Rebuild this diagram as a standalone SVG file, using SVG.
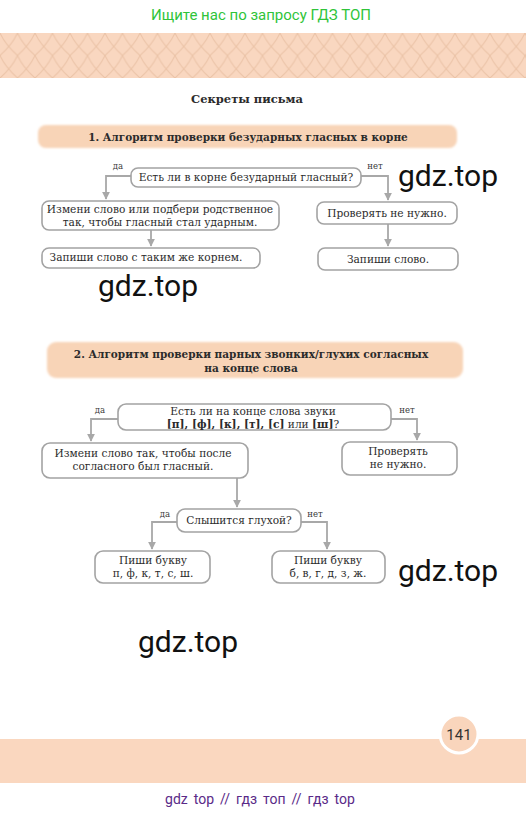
<svg xmlns="http://www.w3.org/2000/svg" width="526" height="817" viewBox="0 0 526 817">
<style>
.t{font-family:"DejaVu Serif","Liberation Serif",serif;font-size:10.6px;fill:#2b2b2b;text-anchor:middle}
.s{font-family:"DejaVu Serif","Liberation Serif",serif;font-size:8.5px;fill:#3a3a3a;text-anchor:middle}
.h{font-family:"DejaVu Serif","Liberation Serif",serif;font-size:10.5px;font-weight:bold;fill:#2b2b2b;text-anchor:middle}
.box{fill:#fff;stroke:#a3a3a3;stroke-width:1.6}
.c{fill:none;stroke:#a8a8a8;stroke-width:1.8}
.wm{font-family:Roboto,"Liberation Sans",sans-serif;font-size:30px;fill:#111}
.band{fill:#f8d4b7}
</style>
<defs>
<pattern id="lat" x="0" y="33" width="17.5" height="22.5" patternUnits="userSpaceOnUse">
<rect width="17.5" height="22.5" fill="#f9d7c0"/>
<path d="M0,0 Q5,11.25 17.5,22.5 M17.5,0 Q12.5,11.25 0,22.5" fill="none" stroke="#ebc3a7" stroke-width="1"/>
</pattern>
<marker id="ar" viewBox="0 0 10 10" refX="9" refY="5" markerWidth="4.5" markerHeight="4.5" orient="auto" markerUnits="strokeWidth">
<path d="M0,0 L10,5 L0,10 z" fill="#a8a8a8"/>
</marker>
<filter id="soft" x="-5%" y="-30%" width="110%" height="160%"><feGaussianBlur stdDeviation="1.2"/></filter>
</defs>
<rect width="526" height="817" fill="#fff"/>
<text x="261" y="20" font-family="Roboto,'Liberation Sans',sans-serif" font-size="15" fill="#2fc43a" text-anchor="middle">Ищите нас по запросу ГДЗ ТОП</text>
<rect x="0" y="33" width="526" height="45" fill="url(#lat)"/>
<text x="247" y="103" font-family="'DejaVu Serif','Liberation Serif',serif" font-size="11.5" font-weight="bold" fill="#2b2b2b" text-anchor="middle">Секреты письма</text>

<g id="header1">
<rect x="38" y="125" width="419" height="23" rx="8" class="band" filter="url(#soft)"/>
<text x="248" y="141" class="h">1. Алгоритм проверки безударных гласных в корне</text>
</g>

<g id="connectors">
<path class="c" d="M131,176 H106 V199" marker-end="url(#ar)"/>
<path class="c" d="M361,176 H388 V200" marker-end="url(#ar)"/>
<path class="c" d="M151,230 V246" marker-end="url(#ar)"/>
<path class="c" d="M388,224 V246" marker-end="url(#ar)"/>
<path class="c" d="M118,419 H91 V441" marker-end="url(#ar)"/>
<path class="c" d="M391,419 H417 V440" marker-end="url(#ar)"/>
<path class="c" d="M237,478 V507" marker-end="url(#ar)"/>
<path class="c" d="M177,522 H152 V549" marker-end="url(#ar)"/>
<path class="c" d="M301,522 H327 V549" marker-end="url(#ar)"/>
</g>

<g id="q1">
<rect x="131" y="168" width="230" height="19" rx="7" class="box"/>
<text x="246" y="181" class="t">Есть ли в корне безударный гласный?</text>
</g>
<text x="118" y="169" class="s">да</text>
<text x="375" y="169" class="s">нет</text>
<g id="a1">
<rect x="42" y="201" width="237" height="29" rx="7" class="box"/>
<text x="160" y="213" class="t">Измени слово или подбери родственное</text>
<text x="160" y="226" class="t">так, чтобы гласный стал ударным.</text>
</g>
<g id="a2">
<rect x="42" y="248" width="218" height="20" rx="7" class="box"/>
<text x="146" y="261" class="t">Запиши слово с таким же корнем.</text>
</g>
<g id="b1">
<rect x="317" y="202" width="140" height="22" rx="7" class="box"/>
<text x="387" y="217" class="t">Проверять не нужно.</text>
</g>
<g id="b2">
<rect x="318" y="248" width="140" height="22" rx="7" class="box"/>
<text x="388" y="263" class="t">Запиши слово.</text>
</g>

<g id="header2">
<rect x="47" y="342" width="416" height="36" rx="9" class="band" filter="url(#soft)"/>
<text x="251" y="358" class="h">2. Алгоритм проверки парных звонких/глухих согласных</text>
<text x="251" y="372" class="h">на конце слова</text>
</g>

<g id="q2">
<rect x="118" y="404" width="273" height="26" rx="8" class="box"/>
<text x="253" y="415" class="t">Есть ли на конце слова звуки</text>
<text x="253" y="428" class="t"><tspan font-weight="bold">[п], [ф], [к], [т], [с]</tspan> или <tspan font-weight="bold">[ш]</tspan>?</text>
</g>
<text x="100" y="413" class="s">да</text>
<text x="407" y="413" class="s">нет</text>
<g id="c1">
<rect x="42" y="443" width="206" height="35" rx="8" class="box"/>
<text x="143" y="457" class="t">Измени слово так, чтобы после</text>
<text x="143" y="470" class="t">согласного был гласный.</text>
</g>
<g id="d1">
<rect x="342" y="442" width="115" height="33" rx="8" class="box"/>
<text x="398" y="455" class="t">Проверять</text>
<text x="398" y="468" class="t">не нужно.</text>
</g>
<g id="q3">
<rect x="177" y="509" width="124" height="23" rx="8" class="box"/>
<text x="239" y="524" class="t">Слышится глухой?</text>
</g>
<text x="165" y="517" class="s">да</text>
<text x="315" y="517" class="s">нет</text>
<g id="e1">
<rect x="95" y="551" width="115" height="32" rx="8" class="box"/>
<text x="153" y="564" class="t">Пиши букву</text>
<text x="153" y="577" class="t">п, ф, к, т, с, ш.</text>
</g>
<g id="e2">
<rect x="272" y="551" width="113" height="32" rx="8" class="box"/>
<text x="328" y="564" class="t">Пиши букву</text>
<text x="328" y="577" class="t">б, в, г, д, з, ж.</text>
</g>

<text x="398" y="186" class="wm">gdz.top</text>
<text x="98" y="296" class="wm">gdz.top</text>
<text x="398" y="581" class="wm">gdz.top</text>
<text x="138" y="652" class="wm">gdz.top</text>

<rect x="0" y="739" width="526" height="44" fill="#fad7bf"/>
<circle cx="459" cy="734" r="19" fill="#f9d5bc" stroke="#fff" stroke-width="3"/>
<text x="459" y="740" font-family="Roboto,'Liberation Sans',sans-serif" font-size="15" fill="#333" text-anchor="middle">141</text>
<text x="260" y="804" font-family="Roboto,'Liberation Sans',sans-serif" font-size="14" fill="#5a2a88" text-anchor="middle" word-spacing="2.5">gdz top // гдз топ // гдз top</text>
</svg>
